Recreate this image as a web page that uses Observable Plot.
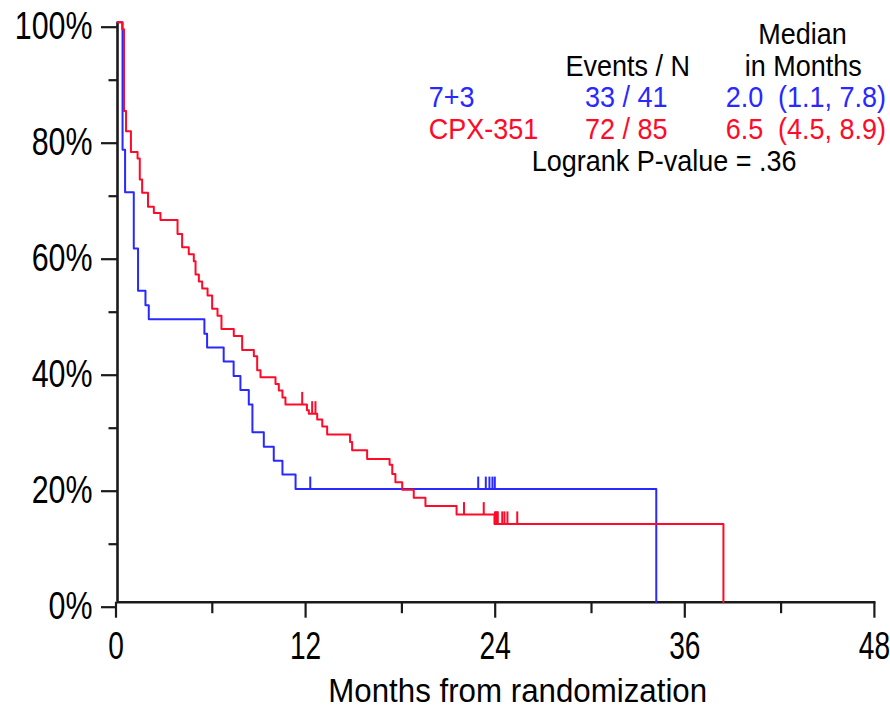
<!DOCTYPE html>
<html><head><meta charset="utf-8">
<script src="https://cdn.jsdelivr.net/npm/d3@7"></script>
<script src="https://cdn.jsdelivr.net/npm/@observablehq/plot@0.6"></script>
<style>html,body{margin:0;padding:0;background:#fff;overflow:hidden}</style>
</head><body><div id="chart"></div>
<script>
// ---- data ----
const blueTimes = [0, 0.32, 0.48, 1.03, 1.3, 1.77, 1.98, 5.5, 5.67, 6.72, 7.35, 7.78, 8.31, 8.54, 9.26, 9.89, 10.44, 11.27, 34.1];
const blueSurv  = [100, 78.0, 70.7, 61.0, 53.7, 51.2, 48.8, 46.3, 43.9, 41.5, 39.0, 36.6, 34.1, 29.3, 26.8, 24.4, 22.0, 19.5, 0];
const blueCensorTimes = [12.2, 22.83, 23.31, 23.54, 23.73, 23.88];
const blueCensorSurv  = [19.5, 19.5, 19.5, 19.5, 19.5, 19.5];

const redTimes = [0, 0.30, 0.41, 0.54, 0.85, 1.27, 1.41, 1.56, 1.93, 2.30, 2.72, 3.80, 4.09, 4.51, 4.83, 4.94, 5.15, 5.36, 5.70, 5.99, 6.33, 6.58, 7.36, 7.89, 8.63, 8.84, 9.05, 10.0, 10.21, 10.44, 10.63, 11.99, 12.11, 12.64, 12.96, 13.27, 14.72, 14.85, 15.80, 17.22, 17.39, 17.59, 18.02, 18.75, 19.49, 21.46, 23.86, 38.35];
const redSurv  = [100, 98.8, 84.7, 81.2, 77.6, 76.5, 72.9, 70.6, 68.2, 67.1, 65.9, 63.5, 61.2, 60.0, 58.8, 56.5, 55.3, 54.1, 52.9, 50.6, 49.4, 47.1, 45.9, 43.5, 42.4, 40.0, 38.8, 37.6, 36.5, 35.3, 34.1, 33.1, 32.5, 31.5, 30.3, 28.9, 27.6, 26.2, 24.7, 23.7, 22.1, 20.7, 19.4, 18.0, 16.6, 15.1, 13.5, 0];
const redCensorTimes = [11.69, 12.32, 12.53, 21.93, 23.18, 23.89, 23.96, 24.02, 24.07, 24.35, 24.49, 24.68, 25.3];
const redCensorSurv  = [34.1, 32.5, 32.5, 15.1, 15.1, 13.5, 13.5, 13.5, 13.5, 13.5, 13.5, 13.5, 13.5];

const xMajorTicks = [0, 12, 24, 36, 48];
const xMinorTicks = [6, 18, 30, 42];
const yMajorTicks = [0, 20, 40, 60, 80, 100];
const yMinorTicks = [10, 30, 50, 70, 90];

const arms = ["7+3", "CPX-351"];
const armEvents = ["33 / 41", "72 / 85"];
const armMedian = ["2.0", "6.5"];
const armCI = ["(1.1, 7.8)", "(4.5, 8.9)"];
const armColors = ["#2828ff", "#ff0a28"];
const xTitle = "Months from randomization";
const logrankText = "Logrank P-value = .36";

// ---- tables ----
const blue = blueTimes.map((t, i) => ({t, s: blueSurv[i]}));
const red = redTimes.map((t, i) => ({t, s: redSurv[i]}));
const blueC = blueCensorTimes.map((t, i) => ({t, s: blueCensorSurv[i]}));
const redC = redCensorTimes.map((t, i) => ({t, s: redCensorSurv[i]}));
const rows = arms.map((a, i) => ({arm: a, ev: armEvents[i], med: armMedian[i], ci: armCI[i], color: armColors[i], row: i}));
const rowY = [85.3, 79.9];

const tickMark = {draw(ctx) { ctx.moveTo(0, 0); ctx.lineTo(0, -12.5); }};
const axisColor = "#1a1a1a";
const LEG = 30;

const plot = Plot.plot({
  width: 890, height: 714,
  marginLeft: 117, marginRight: 14.6, marginTop: 21.7, marginBottom: 112.3,
  x: {domain: [0, 48]},
  y: {domain: [0, 100]},
  style: {fontFamily: "'Liberation Sans', Arial, sans-serif", background: "#fff", color: "#000"},
  marks: [
    Plot.axisY({ticks: yMajorTicks, tickSize: 16, tickPadding: 9, tickFormat: d => d + "%", fontSize: 38, label: null, dy: 5, stroke: axisColor, strokeWidth: 2.2}),
    Plot.axisY({ticks: yMinorTicks, tickSize: 8.5, tickFormat: () => "", label: null, stroke: axisColor, strokeWidth: 2.2}),
    Plot.axisX({ticks: xMajorTicks, tickSize: 16, tickPadding: 14, fontSize: 38.01, dx: -1.5, label: null, stroke: axisColor, strokeWidth: 2.2}),
    Plot.axisX({ticks: xMinorTicks, tickSize: 11.5, tickFormat: () => "", label: null, stroke: axisColor, strokeWidth: 2.2}),
    Plot.ruleX([0], {stroke: axisColor, strokeWidth: 2.6}),
    Plot.ruleY([0], {stroke: axisColor, strokeWidth: 2.6}),
    Plot.line(blue, {x: "t", y: "s", curve: "step-after", stroke: armColors[0], strokeWidth: 2}),
    Plot.dot(blueC, {x: "t", y: "s", symbol: tickMark, stroke: armColors[0], fill: "none", strokeWidth: 2}),
    Plot.line(red, {x: "t", y: "s", curve: "step-after", stroke: armColors[1], strokeWidth: 2}),
    Plot.dot(redC, {x: "t", y: "s", symbol: tickMark, stroke: armColors[1], fill: "none", strokeWidth: 2}),
    // legend block
    Plot.text(["Median"], {x: 43.35, y: 96.2, text: d => d, fontSize: LEG, lineAnchor: "bottom", textAnchor: "middle", fill: "#000"}),
    Plot.text(["in Months"], {x: 43.4, y: 90.8, text: d => d, fontSize: LEG, lineAnchor: "bottom", textAnchor: "middle", fill: "#000"}),
    Plot.text(["Events / N"], {x: 32.3, y: 90.8, text: d => d, fontSize: LEG, lineAnchor: "bottom", textAnchor: "middle", fill: "#000"}),
    Plot.text(rows, {x: 19.7, y: d => rowY[d.row], text: "arm", fill: "color", fontSize: LEG, lineAnchor: "bottom", textAnchor: "start"}),
    Plot.text(rows, {x: 32.2, y: d => rowY[d.row], text: "ev", fill: "color", fontSize: LEG, lineAnchor: "bottom", textAnchor: "middle"}),
    Plot.text(rows, {x: 38.5, y: d => rowY[d.row], text: "med", fill: "color", fontSize: LEG, lineAnchor: "bottom", textAnchor: "start"}),
    Plot.text(rows, {x: 41.8, y: d => rowY[d.row], text: "ci", fill: "color", fontSize: LEG, lineAnchor: "bottom", textAnchor: "start"}),
    Plot.text([logrankText], {x: 34.6, y: 74.4, text: d => d, fontSize: LEG, lineAnchor: "bottom", textAnchor: "middle", fill: "#000"}),
    Plot.text([xTitle], {frameAnchor: "bottom", dx: 21, dy: 100, text: d => d, fontSize: 34, lineAnchor: "bottom", fill: "#000"})
  ]
});

// condense text horizontally like the reference
const scaleBySize = {"38": 0.8, "38.01": 0.74, "30": 0.9, "34": 0.92};
plot.querySelectorAll("text").forEach(t => {
  const holder = t.closest("[font-size]");
  const fs = holder ? holder.getAttribute("font-size") : null;
  const sx = scaleBySize[fs];
  if (!sx) return;
  let tr = t.getAttribute("transform");
  if (!tr) {
    const x = +(t.getAttribute("x") || 0), y = +(t.getAttribute("y") || 0);
    t.removeAttribute("x"); t.removeAttribute("y");
    tr = `translate(${x},${y})`;
  }
  t.setAttribute("transform", tr + ` scale(${sx},1)`);
});
document.getElementById("chart").append(plot);
</script>
</body></html>
